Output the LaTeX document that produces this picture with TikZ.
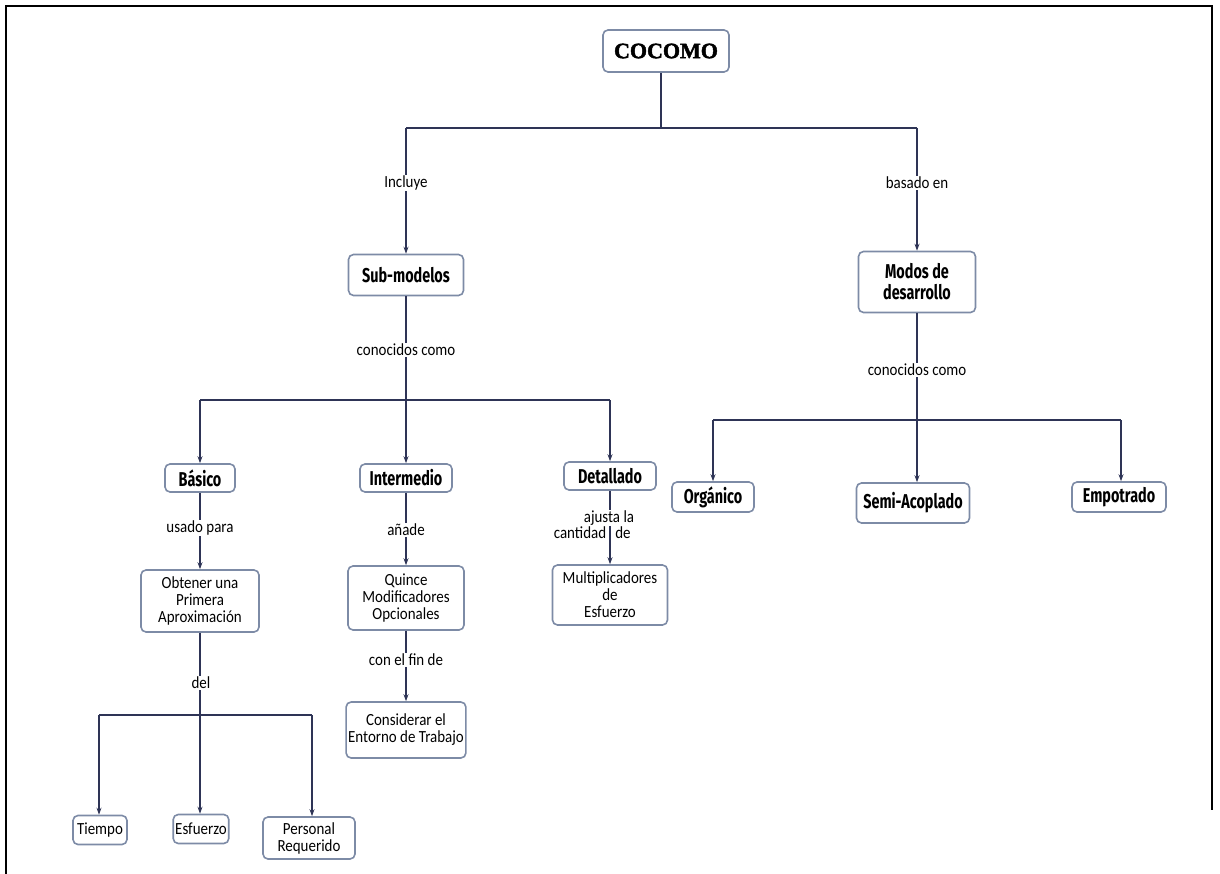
\documentclass[tikz,border=0pt]{standalone}
\usepackage{fontspec}
\setmainfont{Carlito}[FakeStretch=0.88]
\newfontfamily\hfont{Fira Sans}[FakeStretch=0.72]
\newfontfamily\cfont{Liberation Serif}[FakeBold=2]
\usetikzlibrary{arrows.meta}
\definecolor{conncol}{HTML}{2E3456}
\definecolor{boxcol}{HTML}{7D8BA6}
\tikzset{
  box/.style={draw=boxcol, line width=1.6pt, rounded corners=5pt, fill=white,
    align=center, inner sep=2pt, font=\fontsize{17}{17}\selectfont},
  hbox/.style={box, font=\hfont\bfseries\fontsize{20}{21}\selectfont},
  conn/.style={draw=conncol, line width=1.3pt},
  arr/.style={conn, -{Stealth[length=7pt,width=5pt]}},
  lbl/.style={fill=white, inner sep=1pt, font=\fontsize{17}{17}\selectfont},
  lbln/.style={inner sep=1pt, font=\fontsize{17}{17}\selectfont}
}
\begin{document}
\begin{tikzpicture}[x=1pt,y=-1pt]
\useasboundingbox (0,0) rectangle (1220,874);
\draw[line width=2.5pt, black] (6,874) -- (6,6) -- (1212,6) -- (1212,810);

% nodes
\node[box, font=\cfont\bfseries\fontsize{22}{24}\selectfont, minimum width=126, minimum height=42] (cocomo) at (666,51) {COCOMO};
\node[hbox, minimum width=115, minimum height=41] (sub) at (406,275) {Sub-modelos};
\node[hbox, minimum width=117, minimum height=61] (modos) at (917,282) {Modos de\\desarrollo};
\node[hbox, minimum width=70, minimum height=28] (basico) at (200,478) {Básico};
\node[hbox, minimum width=92, minimum height=28] (inter) at (406,478) {Intermedio};
\node[hbox, minimum width=92, minimum height=28] (det) at (610,476) {Detallado};
\node[hbox, minimum width=82, minimum height=30] (org) at (713,497) {Orgánico};
\node[hbox, minimum width=113, minimum height=40] (semi) at (913,503) {Semi-Acoplado};
\node[hbox, minimum width=94, minimum height=30] (emp) at (1119,497) {Empotrado};
\node[box, minimum width=118, minimum height=62] (obt) at (200,601) {Obtener una\\Primera\\Aproximación};
\node[box, minimum width=116, minimum height=64] (quince) at (406,598) {Quince\\Modificadores\\Opcionales};
\node[box, minimum width=115, minimum height=60] (mult) at (610,595) {Multiplicadores\\de\\Esfuerzo};
\node[box, minimum width=118, minimum height=56] (cons) at (406,730) {Considerar el\\Entorno de Trabajo};
\node[box, minimum width=54, minimum height=29] (tiempo) at (100,830) {Tiempo};
\node[box, minimum width=54, minimum height=29] (esf) at (201,829) {Esfuerzo};
\node[box, minimum width=92, minimum height=42] (pers) at (309,838) {Personal\\Requerido};

% junctions
\coordinate (j1) at (661,128);
\coordinate (jl) at (406,128);
\coordinate (jr) at (917,128);
\coordinate (jm) at (406,400);
\coordinate (jmL) at (200,400);
\coordinate (jmR) at (610,400);
\coordinate (jr2) at (917,420);
\coordinate (jr2L) at (713,420);
\coordinate (jr2R) at (1121,420);
\coordinate (jb) at (200,715);
\coordinate (jbL) at (99,715);
\coordinate (jbR) at (312,715);

% connectors
\draw[conn] (cocomo.south -| j1) -- (j1);
\draw[conn] (jl) -- (jr);
\draw[arr] (jl) -- (sub.north);
\draw[arr] (jr) -- (modos.north);
\draw[conn] (sub.south) -- (jm);
\draw[conn] (jmL) -- (jmR);
\draw[arr] (jmL) -- (basico.north);
\draw[arr] (jm) -- (inter.north);
\draw[arr] (jmR) -- (det.north);
\draw[conn] (modos.south) -- (jr2);
\draw[conn] (jr2L) -- (jr2R);
\draw[arr] (jr2L) -- (org.north);
\draw[arr] (jr2) -- (jr2 |- semi.north);
\draw[arr] (jr2R) -- (jr2R |- emp.north);
\draw[arr] (basico.south) -- (obt.north);
\draw[conn] (obt.south) -- (jb);
\draw[conn] (jbL) -- (jbR);
\draw[arr] (jbL) -- (jbL |- tiempo.north);
\draw[arr] (jb) -- (jb |- esf.north);
\draw[arr] (jbR) -- (jbR |- pers.north);
\draw[arr] (inter.south) -- (quince.north);
\draw[arr] (quince.south) -- (cons.north);
\draw[arr] (det.south) -- (mult.north);

% labels
\node[lbl] (l1) at (406,183) {Incluye};
\node[lbl] (l2) at (917,183) {basado en};
\node[lbl] (l3) at (406,350) {conocidos como};
\node[lbl] (l4) at (917,370) {conocidos como};
\node[lbl] (l5) at (200,528) {usado para};
\node[lbl] (l6) at (201,683) {del};
\node[lbl] (l7) at (406,530) {añade};
\node[lbl] (l8) at (406,660) {con el fin de};
\node[lbl] (l9) at (609,518) {ajusta la};
\node[lbln] (l10) at (580,533) {cantidad};
\node[lbln] (l11) at (623,533) {de};
\end{tikzpicture}
\end{document}
